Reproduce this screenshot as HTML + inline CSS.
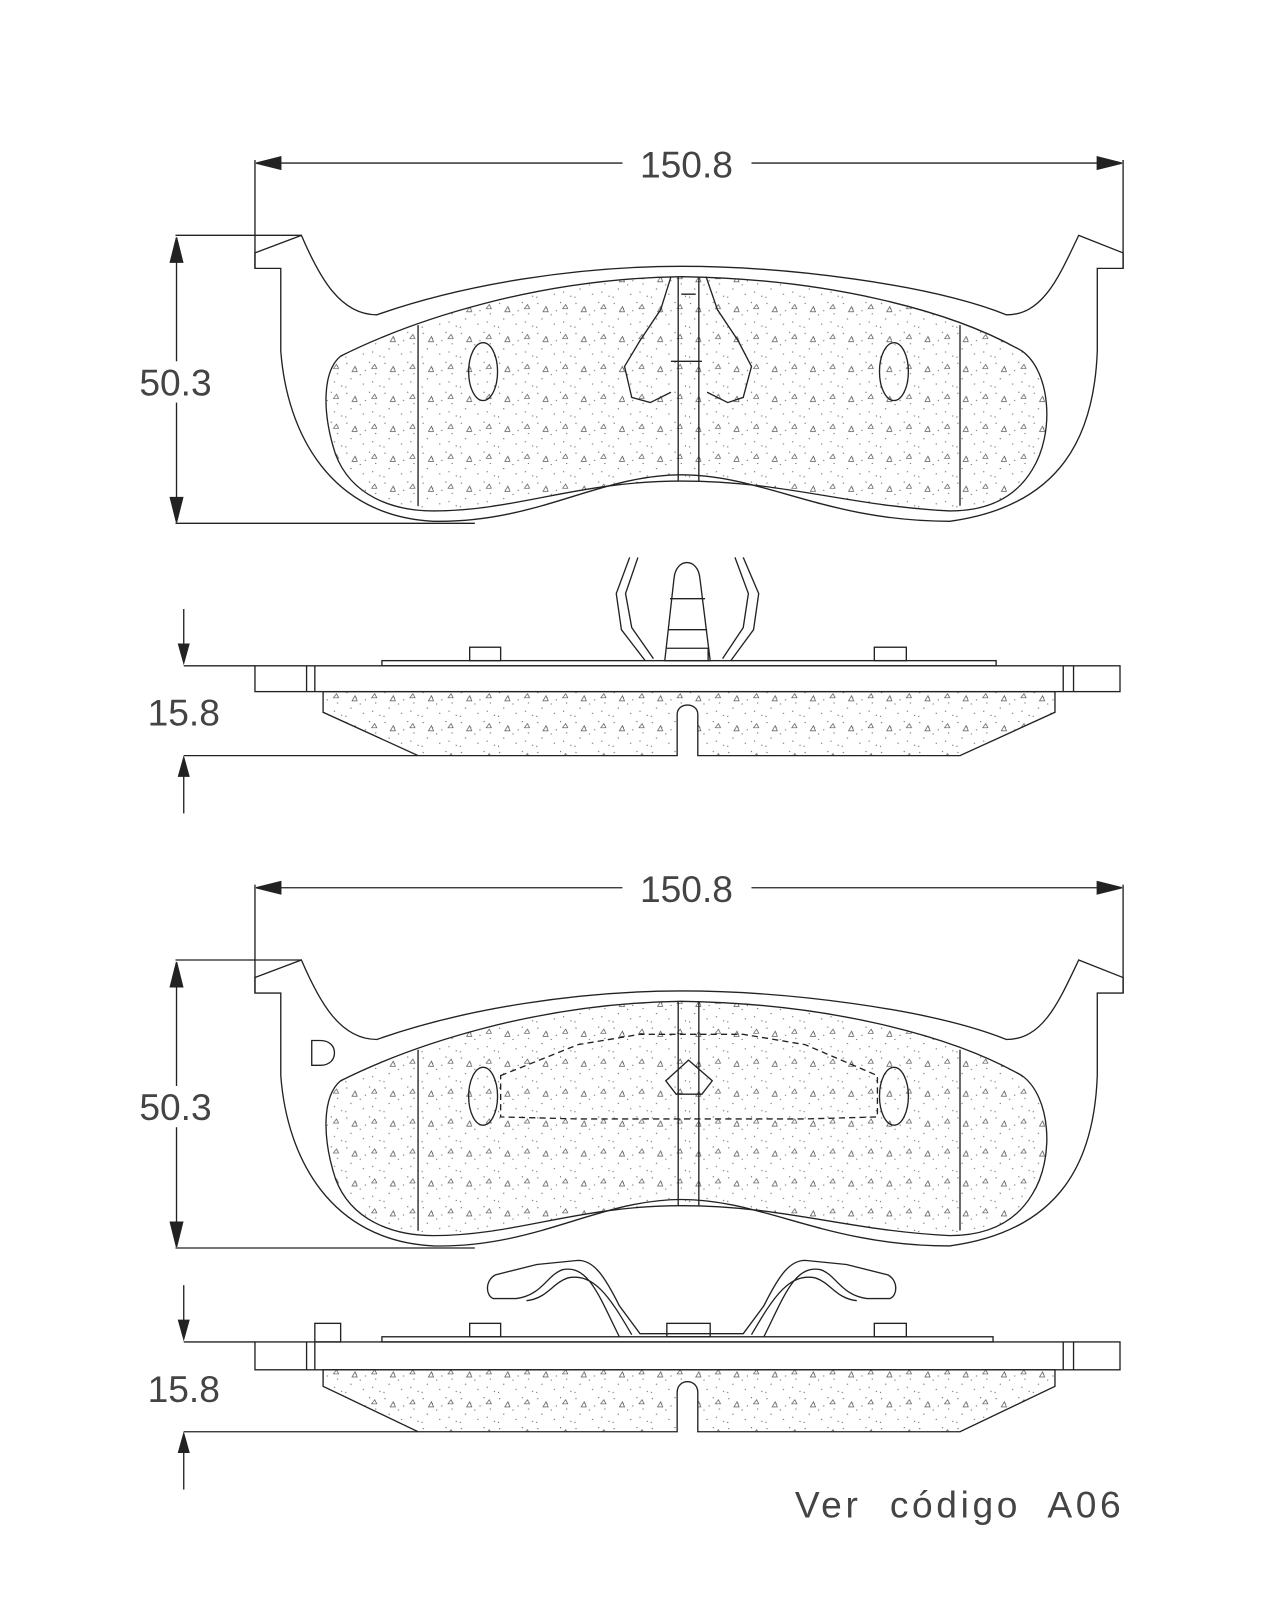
<!DOCTYPE html>
<html><head><meta charset="utf-8"><style>
html,body{margin:0;padding:0;background:#fff;}
svg{display:block;}
text{font-family:"Liberation Sans",sans-serif;fill:#444;}
</style></head><body>
<svg width="1280" height="1600" viewBox="0 0 1240 1550" preserveAspectRatio="none" xmlns="http://www.w3.org/2000/svg">
<defs>
<pattern id="st" width="37" height="29" patternUnits="userSpaceOnUse">
<g fill="#666">
<circle cx="3" cy="4" r="0.6"/><circle cx="12" cy="9" r="0.6"/><circle cx="25" cy="3" r="0.6"/><circle cx="31" cy="14" r="0.6"/><circle cx="7" cy="19" r="0.6"/><circle cx="19" cy="24" r="0.6"/><circle cx="28" cy="22" r="0.6"/><circle cx="16" cy="15" r="0.6"/><circle cx="35" cy="26" r="0.6"/><circle cx="2" cy="27" r="0.6"/><circle cx="21" cy="11" r="0.6"/>
</g>
<g fill="none" stroke="#555" stroke-width="0.7">
<path d="M8,12 l3,-5 l2,5z"/><path d="M27,9 l3,-4 l2,4z"/>
</g>
</pattern>
</defs>
<g fill="none" stroke="#222" stroke-width="1.3">
<!-- ===== TOP PAD FRONT ===== -->
<line x1="247" y1="155" x2="247" y2="260"/><line x1="1088" y1="155" x2="1088" y2="260"/>
<line x1="250" y1="158" x2="603" y2="158"/><line x1="728" y1="158" x2="1085" y2="158"/>
<path d="M248,158 l24,-6 v12z M1087,158 l-24,-6 v12z" fill="#222"/>
<line x1="170" y1="228" x2="292" y2="228"/><line x1="170" y1="507" x2="460" y2="507"/>
<line x1="171" y1="232" x2="171" y2="505"/>
<path d="M171,230 l-6,24 h12z M171,506 l-6,-24 h12z" fill="#222"/>
<path d="M247,245 L292,228 C310,270 330,305 365,305 C450,275 560,258 660,258 C760,258 900,275 975,305 C1010,305 1025,270 1045,228 L1088,245 L1088,260 L1063,260 L1063,340 C1060,420 1030,490 920,505 C800,505 740,460 660,460 C580,460 520,507 420,505 C320,500 278,420 272,340 L272,260 L247,260 Z"/>
<path d="M330,345 C400,310 520,270 660,268 C800,270 920,300 990,340 C1018,360 1022,420 1000,455 C985,480 960,495 920,495 C820,490 760,466 660,466 C560,466 500,495 420,495 C380,495 340,480 325,440 C312,400 312,360 330,345 Z" fill="url(#st)"/>
<line x1="405" y1="315" x2="405" y2="490"/><line x1="930" y1="315" x2="930" y2="490"/>
<line x1="657" y1="268" x2="657" y2="466"/><line x1="677" y1="268" x2="677" y2="466"/>
<ellipse cx="468" cy="360" rx="14" ry="28"/><ellipse cx="866" cy="360" rx="14" ry="28"/>
<path d="M650,268 L640,300 L620,330 L605,355 L612,385 L630,390 L650,380 M684,268 L695,300 L715,330 L728,355 L720,385 L705,390 L685,380"/>
<path d="M650,350 h30 M660,285 h14"/>
<!-- ===== TOP PAD SIDE ===== -->
<line x1="178" y1="590" x2="178" y2="640"/><path d="M178,642 l-5,-18 h10z" fill="#222"/>
<line x1="178" y1="736" x2="178" y2="788"/><path d="M178,734 l-5,18 h10z" fill="#222"/>
<line x1="178" y1="645" x2="247" y2="645"/><line x1="178" y1="732" x2="405" y2="732"/>
<rect x="247" y="645" width="838" height="25"/>
<line x1="297" y1="645" x2="297" y2="670"/><line x1="305" y1="645" x2="305" y2="670"/>
<line x1="1030" y1="645" x2="1030" y2="670"/><line x1="1040" y1="645" x2="1040" y2="670"/>
<rect x="370" y="640" width="595" height="5"/>
<rect x="455" y="627" width="30" height="13"/><rect x="847" y="627" width="31" height="13"/>
<path d="M313,670 L1022,670 L1022,690 L930,732 L676,732 L676,692 C676,680 656,680 656,692 L656,732 L405,732 L313,690 Z" fill="url(#st)"/>
<path d="M644,640 L653,560 C655,540 676,540 678,560 L688,640 Z M649,580 h34 M647,610 h38 M646,628 h40 v12"/>
<path d="M610,540 L597,575 L602,610 L625,640 M618,540 L606,575 L612,608 L633,638 M720,540 L735,575 L730,610 L708,640 M712,540 L725,575 L720,608 L700,638"/>
<!-- ===== BOTTOM PAD FRONT ===== -->
<line x1="247" y1="857" x2="247" y2="962"/><line x1="1088" y1="857" x2="1088" y2="962"/>
<line x1="250" y1="860" x2="603" y2="860"/><line x1="728" y1="860" x2="1085" y2="860"/>
<path d="M248,860 l24,-6 v12z M1087,860 l-24,-6 v12z" fill="#222"/>
<line x1="170" y1="930" x2="292" y2="930"/><line x1="170" y1="1209" x2="460" y2="1209"/>
<line x1="171" y1="934" x2="171" y2="1207"/>
<path d="M171,932 l-6,24 h12z M171,1208 l-6,-24 h12z" fill="#222"/>
<g transform="translate(0,702)">
<path d="M247,245 L292,228 C310,270 330,305 365,305 C450,275 560,258 660,258 C760,258 900,275 975,305 C1010,305 1025,270 1045,228 L1088,245 L1088,260 L1063,260 L1063,340 C1060,420 1030,490 920,505 C800,505 740,460 660,460 C580,460 520,507 420,505 C320,500 278,420 272,340 L272,260 L247,260 Z"/>
<path d="M330,345 C400,310 520,270 660,268 C800,270 920,300 990,340 C1018,360 1022,420 1000,455 C985,480 960,495 920,495 C820,490 760,466 660,466 C560,466 500,495 420,495 C380,495 340,480 325,440 C312,400 312,360 330,345 Z" fill="url(#st)"/>
<line x1="405" y1="315" x2="405" y2="490"/><line x1="930" y1="315" x2="930" y2="490"/>
<line x1="657" y1="268" x2="657" y2="466"/><line x1="677" y1="268" x2="677" y2="466"/>
<ellipse cx="468" cy="360" rx="14" ry="28"/><ellipse cx="866" cy="360" rx="14" ry="28"/>
<path d="M485,340 L560,310 L620,300 L720,300 L780,310 L850,340 L850,380 L780,382 L560,382 L485,380 Z" stroke-dasharray="6,4"/>
<path d="M645,345 L667,325 L690,345 L680,358 L655,358 Z"/>
<path d="M302,306 h8 c10,0 14,6 14,12 c0,6 -4,12 -14,12 h-8 z"/>
</g>
<!-- ===== BOTTOM PAD SIDE ===== -->
<g transform="translate(0,655)">
<line x1="178" y1="590" x2="178" y2="640"/><path d="M178,642 l-5,-18 h10z" fill="#222"/>
<line x1="178" y1="736" x2="178" y2="788"/><path d="M178,734 l-5,18 h10z" fill="#222"/>
<line x1="178" y1="645" x2="247" y2="645"/><line x1="178" y1="732" x2="405" y2="732"/>
<rect x="247" y="645" width="838" height="27"/>
<line x1="297" y1="645" x2="297" y2="672"/><line x1="305" y1="645" x2="305" y2="672"/>
<line x1="1030" y1="645" x2="1030" y2="672"/><line x1="1040" y1="645" x2="1040" y2="672"/>
<rect x="370" y="640" width="592" height="5"/>
<rect x="305" y="627" width="25" height="18"/>
<rect x="455" y="627" width="30" height="13"/><rect x="847" y="627" width="31" height="13"/>
<rect x="646" y="627" width="42" height="13"/>
<path d="M313,672 L1022,672 L1022,688 L930,732 L676,732 L676,694 C676,680 656,680 656,694 L656,732 L405,732 L313,688 Z" fill="url(#st)"/>
<path d="M600,640 C580,600 570,570 545,575 C530,580 525,600 500,603 L478,603 C470,600 470,585 480,580 L520,570 L560,566 C575,566 585,580 600,610 L620,637 L720,637 L740,610 C755,580 765,566 780,566 L820,570 L860,580 C870,585 870,600 862,603 L840,603 C815,600 810,580 795,575 C770,570 760,600 740,640"/>
<path d="M612,638 C590,600 575,578 550,583 C535,588 530,603 510,605 M728,638 C750,600 765,578 790,583 C805,588 810,603 830,605"/>
</g>
</g>
<rect x="125" y="350" width="92" height="40" fill="#fff"/>
<rect x="125" y="1052" width="92" height="40" fill="#fff"/>
<g font-size="36" text-anchor="middle">
<text x="665" y="172">150.8</text>
<text x="665" y="874">150.8</text>
<text x="170" y="383">50.3</text>
<text x="170" y="1085">50.3</text>
<text x="178" y="703">15.8</text>
<text x="178" y="1358">15.8</text>
</g>
<text x="770" y="1470" font-size="36" letter-spacing="3.5" word-spacing="14">Ver código A06</text>
</svg>
</body></html>
